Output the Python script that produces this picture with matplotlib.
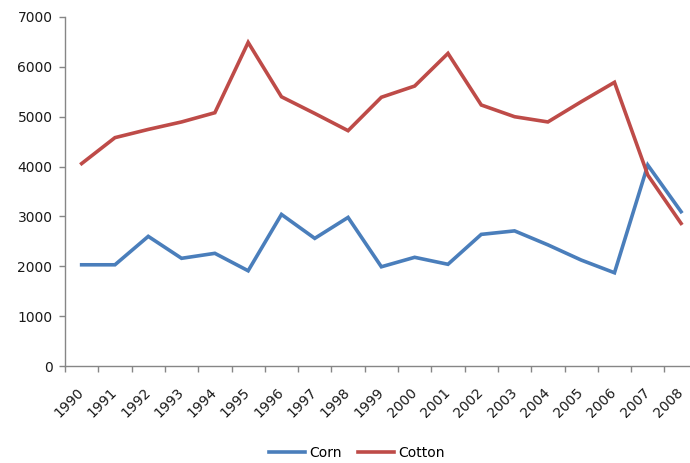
import numpy as np
import matplotlib.pyplot as plt
from matplotlib.ticker import FixedLocator
from matplotlib.transforms import ScaledTranslation

years = [str(y) for y in range(1990, 2009)]
corn = [2030, 2030, 2600, 2160, 2260, 1910, 3040, 2560, 2980, 1990,
        2180, 2040, 2640, 2710, 2430, 2125, 1870, 4030, 3095]
cotton = [4060, 4580, 4745, 4895, 5080, 6490, 5400, 5065, 4720, 5390,
          5615, 6270, 5235, 5000, 4895, 5300, 5690, 3830, 2860]

corn_color = '#4A7EBB'
cotton_color = '#BE4B48'
axis_gray = '#868686'

fig = plt.figure(figsize=(6.9, 4.63), dpi=100)
ax = fig.add_axes([0.0942, 0.2095, 0.917, 0.7538])

x = np.arange(len(years))
ax.plot(x, corn, color=corn_color, linewidth=2.6, label='Corn', solid_joinstyle='miter')
ax.plot(x, cotton, color=cotton_color, linewidth=2.6, label='Cotton', solid_joinstyle='miter')

ax.set_ylim(0, 7000)
ax.set_yticks(np.arange(0, 7001, 1000))
ax.set_xlim(-0.5, len(years) - 0.5)

# category boundaries get tick marks, labels sit at the centres
ax.xaxis.set_major_locator(FixedLocator(np.arange(-0.5, len(years), 1.0)))
ax.xaxis.set_major_formatter(plt.NullFormatter())
ax.xaxis.set_minor_locator(FixedLocator(x))
ax.set_xticklabels(years, minor=True, rotation=45, ha='right', va='top',
                   rotation_mode='anchor')
ax.tick_params(axis='x', which='minor', length=0, pad=14, labelsize=10, labelcolor='#1a1a1a')
ax.tick_params(axis='x', which='major', length=4, color=axis_gray, width=1)
ax.tick_params(axis='y', length=4, color=axis_gray, width=1, labelsize=10,
               labelcolor='#1a1a1a', pad=5)

# nudge the slanted year labels a little to the left
shift = ScaledTranslation(-5 / 100, 0, fig.dpi_scale_trans)
for lbl in ax.get_xticklabels(minor=True):
    lbl.set_transform(lbl.get_transform() + shift)

for side in ('top', 'right'):
    ax.spines[side].set_visible(False)
for side in ('left', 'bottom'):
    ax.spines[side].set_color(axis_gray)
    ax.spines[side].set_linewidth(1)

fig.legend(loc='center', bbox_to_anchor=(0.517, 0.022), ncol=2, frameon=False,
           fontsize=10, handlelength=2.6, handletextpad=0.3, columnspacing=1.2)

fig.savefig('out.png', dpi=100)
